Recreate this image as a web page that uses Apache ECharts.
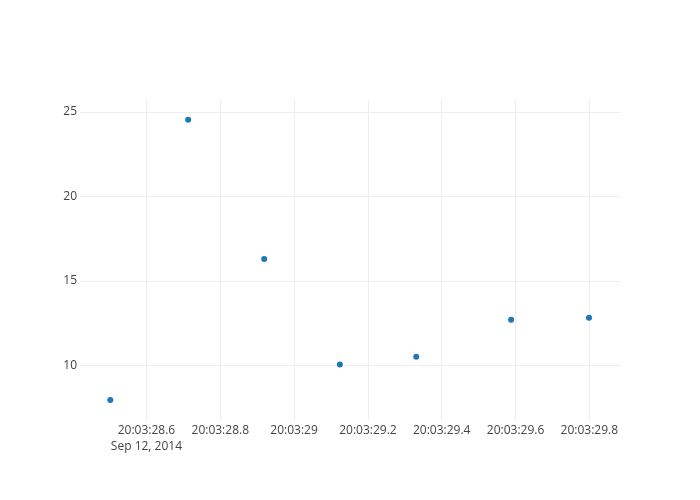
<!DOCTYPE html>
<html>
<head>
<meta charset="utf-8">
<script src="https://cdn.jsdelivr.net/npm/echarts@6/dist/echarts.min.js"></script>
<style>
html,body{margin:0;padding:0;background:#fff;}
#chart{width:700px;height:500px;}
</style>
</head>
<body>
<div id="chart"></div>
<script>
// Timestamps (Sep 12, 2014, 20:03:xx) as milliseconds after 20:03:28.000
var xMs = [502, 713, 919, 1124, 1331, 1588, 1799];
var yValues = [7.94, 24.54, 16.29, 10.04, 10.51, 12.69, 12.81];
var xTicks = [600, 800, 1000, 1200, 1400, 1600, 1800];
var yTicks = [10, 15, 20, 25];
var dateLabel = 'Sep 12, 2014';
var timePrefix = '20:03:';
var baseSecond = 28;

var chart = echarts.init(document.getElementById('chart'), null, {renderer: 'canvas'});
var pts = xMs.map(function (x, i) { return [x, yValues[i]]; });
var font = '"Open Sans", sans-serif';

function fmtX(v) {
  var s = Math.round((baseSecond + v / 1000) * 10) / 10;
  var str = timePrefix + (s % 1 === 0 ? s.toFixed(0) : s.toFixed(1));
  if (Math.abs(v - xTicks[0]) < 1) str += '\n' + dateLabel;
  return str;
}

chart.setOption({
  animation: false,
  backgroundColor: '#fff',
  grid: {left: 80, right: 80, top: 100, bottom: 80, containLabel: false},
  xAxis: {
    type: 'value',
    min: 420, max: 1883,
    axisLine: {show: false},
    axisTick: {show: false, customValues: xTicks},
    splitLine: {show: true, customValues: xTicks, lineStyle: {color: '#eeeeee', width: 1}},
    axisLabel: {
      customValues: xTicks,
      formatter: fmtX, color: '#444', fontFamily: font, fontSize: 12,
      margin: 3, lineHeight: 16
    }
  },
  yAxis: {
    type: 'value',
    min: 6.76, max: 25.71,
    axisLine: {show: false},
    axisTick: {show: false, customValues: yTicks},
    splitLine: {show: true, customValues: yTicks, lineStyle: {color: '#eeeeee', width: 1}},
    axisLabel: {
      customValues: yTicks,
      color: '#444', fontFamily: font, fontSize: 12, margin: 3
    }
  },
  series: [{
    type: 'scatter',
    data: pts,
    symbol: 'circle',
    symbolSize: 6,
    itemStyle: {color: '#1f77b4', opacity: 1}
  }]
});
</script>
</body>
</html>
